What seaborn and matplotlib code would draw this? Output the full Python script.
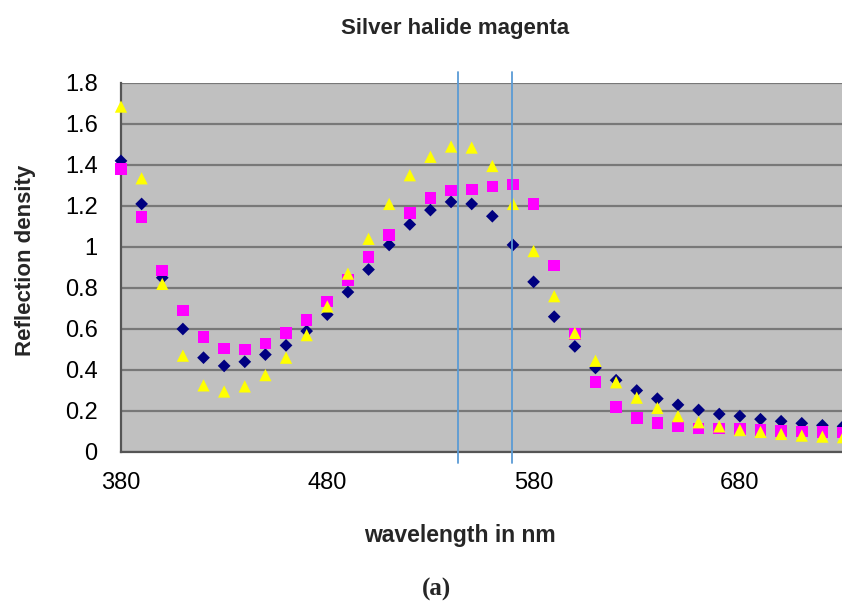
import matplotlib

matplotlib.use("Agg")
import matplotlib.pyplot as plt
import pandas as pd
import seaborn as sns

WAVELENGTH = list(range(380, 740, 10))

SERIES_1 = [1.42, 1.21, 0.85, 0.60, 0.46, 0.42, 0.44, 0.475, 0.52, 0.59,
            0.67, 0.78, 0.89, 1.01, 1.11, 1.18, 1.22, 1.21, 1.15, 1.01,
            0.83, 0.66, 0.515, 0.41, 0.35, 0.30, 0.26, 0.23, 0.205, 0.185,
            0.175, 0.16, 0.15, 0.14, 0.13, 0.125]
SERIES_2 = [1.38, 1.145, 0.885, 0.69, 0.56, 0.505, 0.50, 0.53, 0.58, 0.645,
            0.735, 0.84, 0.95, 1.06, 1.165, 1.24, 1.275, 1.28, 1.295, 1.305,
            1.21, 0.91, 0.575, 0.34, 0.22, 0.165, 0.14, 0.125, 0.115, 0.115,
            0.112, 0.107, 0.102, 0.10, 0.097, 0.095]
SERIES_3 = [1.685, 1.335, 0.82, 0.47, 0.325, 0.295, 0.32, 0.375, 0.46, 0.57,
            0.71, 0.87, 1.04, 1.21, 1.35, 1.44, 1.49, 1.485, 1.395, 1.21,
            0.98, 0.76, 0.58, 0.445, 0.34, 0.265, 0.215, 0.175, 0.145, 0.125,
            0.107, 0.098, 0.088, 0.08, 0.075, 0.072]
SERIES_NAMES = ["series 1", "series 2", "series 3"]

BAND_EDGES = [543.5, 569.5]
X_TICKS = [380, 480, 580, 680]
Y_TICKS = [0, 0.2, 0.4, 0.6, 0.8, 1.0, 1.2, 1.4, 1.6, 1.8]
Y_TICK_LABELS = ["0", "0.2", "0.4", "0.6", "0.8", "1", "1.2", "1.4", "1.6", "1.8"]

sns.set_style("white", {"axes.facecolor": "#c0c0c0"})
plt.rcParams["font.family"] = ["Liberation Sans", "DejaVu Sans"]

frames = []
for name, values in zip(SERIES_NAMES, [SERIES_1, SERIES_2, SERIES_3]):
    frames.append(pd.DataFrame({"wavelength": WAVELENGTH, "density": values, "series": name}))
data = pd.concat(frames, ignore_index=True)

fig = plt.figure(figsize=(8.42, 6.08), dpi=100)
ax = fig.add_axes([0.1437, 0.2566, 0.8563, 0.6069])

for y in Y_TICKS:
    ax.axhline(y, color="#787878", lw=1.6, zorder=1)

sns.scatterplot(
    data=data,
    x="wavelength",
    y="density",
    hue="series",
    style="series",
    hue_order=SERIES_NAMES,
    style_order=SERIES_NAMES,
    palette={"series 1": "#000080", "series 2": "#ff00ff", "series 3": "#ffff00"},
    markers={"series 1": "D", "series 2": "s", "series 3": "^"},
    size="series",
    sizes={"series 1": 42, "series 2": 70, "series 3": 78},
    linewidth=0,
    legend=False,
    clip_on=False,
    ax=ax,
    zorder=3,
)

for x in BAND_EDGES:
    ax.axvline(x, ymin=-0.03, ymax=1.03, color="#5b9bd5", lw=1.3, clip_on=False, zorder=4)

ax.set_xlim(380, 729.5)
ax.set_ylim(0, 1.8)
ax.set_xticks(X_TICKS)
ax.set_yticks(Y_TICKS)
ax.set_yticklabels(Y_TICK_LABELS)
ax.tick_params(axis="both", labelsize=17, colors="#000000", width=1, direction="out")
ax.tick_params(axis="x", color="#808080", length=5, pad=9.5)
ax.tick_params(axis="y", color="#808080", length=5.8, pad=11)

for side in ["top", "right"]:
    ax.spines[side].set_visible(False)
ax.spines["left"].set_color("#555555")
ax.spines["left"].set_linewidth(1.6)
ax.spines["bottom"].set_color("#555555")
ax.spines["bottom"].set_linewidth(1.6)

ax.set_xlabel("")
ax.set_ylabel("")
fig.text(0.54, 0.953, "Silver halide magenta", ha="center", va="center", fontsize=16, fontweight="bold")
fig.text(0.0297, 0.572, "Reflection density", ha="center", va="center", rotation=90, fontsize=16, fontweight="bold")
fig.text(0.546, 0.12, "wavelength in nm", ha="center", va="center", fontsize=16.5, fontweight="bold")
fig.text(0.519, 0.03, "(a)", ha="center", va="center", fontsize=18, fontweight="bold", family=["Liberation Serif", "DejaVu Serif"])

fig.savefig("out.png", dpi=100)
